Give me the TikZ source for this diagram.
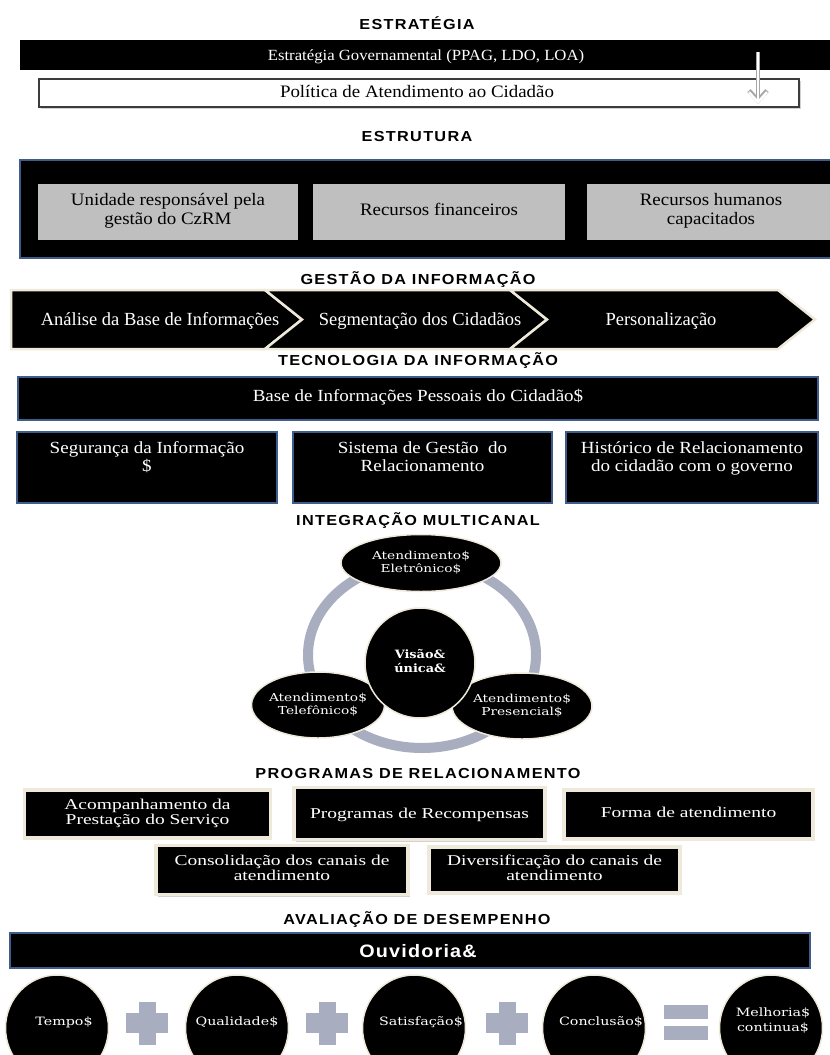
\documentclass[tikz,border=0pt]{standalone}
\usepackage{fontspec}
\usepackage{graphicx}
\setmainfont{Liberation Serif}
\newfontfamily\ttlfont[LetterSpace=8]{Liberation Sans}
\newfontfamily\ouvfont[LetterSpace=6]{Liberation Sans}
\newfontfamily\elfont{DejaVu Serif}
\usetikzlibrary{shapes.geometric,arrows.meta,shadows}
\definecolor{bblue}{RGB}{62,92,140}
\definecolor{cream}{RGB}{238,233,218}
\definecolor{gfill}{RGB}{191,191,191}
\definecolor{ringc}{RGB}{168,174,192}
\definecolor{darkedge}{RGB}{60,60,60}
\newcommand\tx[2]{\scalebox{#1}[1]{\begin{tabular}{@{}c@{}}#2\end{tabular}}}
\begin{document}
\begin{tikzpicture}[x=1pt,y=-1pt,
  ttl/.style={inner sep=0, font=\ttlfont\bfseries\fontsize{14.5}{16}\selectfont},
  wtxt/.style={inner sep=0, text=white},
  blkbar/.style={fill=black, inner sep=0},
  bluebox/.style={fill=black, draw=bblue, line width=2.2, inner sep=0},
  graybox/.style={fill=gfill, inner sep=0},
  chev/.style={fill=black, draw=cream, line width=2.5, line join=miter},
  ell/.style={ellipse, fill=black, draw=cream, line width=1.5, inner sep=0},
  progbox/.style={fill=black, draw=cream, line width=3.5, inner sep=0,
     drop shadow={opacity=0.35, shadow xshift=1.5pt, shadow yshift=-2pt}},
  signc/.style={fill=ringc}
]
\useasboundingbox (0,0) rectangle (830,1055);
\fill[white] (0,0) rectangle (830,1055);

% ---------- ESTRATEGIA
\node[ttl] (t1) at (417,25) {\tx{1.12}{ESTRATÉGIA}};
\node[blkbar, minimum width=810, minimum height=30] (gov) at (425,55) {};
\node[wtxt, font=\fontsize{15.5}{17}\selectfont] (govt) at (426,57) {\tx{1.08}{Estratégia Governamental (PPAG, LDO, LOA)}};
\node[fill=white, draw=darkedge, line width=1.2, minimum width=760, minimum height=28, inner sep=0,
   drop shadow={opacity=0.35, shadow xshift=1.5pt, shadow yshift=-2pt}] (pol) at (419,93) {};
\node[inner sep=0, font=\fontsize{17.5}{19}\selectfont] (polt) at (417,94) {\tx{1.08}{Política de Atendimento ao Cidadão}};
\coordinate (aS) at (758,52);
\coordinate (aE) at (758,104);
\draw[line width=4.5pt, black!35, -{Straight Barb[length=10pt,width=18pt]}] (aS) -- (aE);
\draw[line width=2.5pt, white, -{Straight Barb[length=10pt,width=18pt]}] (aS) -- (aE);

% ---------- ESTRUTURA
\node[ttl] (t2) at (417,138) {\tx{1.12}{ESTRUTURA}};
\node[bluebox, minimum width=830, minimum height=98] (est) at (435,209) {};
\node[graybox, minimum width=260, minimum height=56] (g1) at (168,211.5) {};
\node[graybox, minimum width=252, minimum height=56] (g2) at (439,211.5) {};
\node[graybox, minimum width=258, minimum height=56] (g3) at (716,211.5) {};
\begin{scope}[every node/.style={inner sep=0, font=\fontsize{17.5}{18.5}\selectfont}]
\node (g1t) at (g1) {\tx{1.08}{Unidade responsável pela\\gestão do CzRM}};
\node (g2t) at (g2) {\tx{1.08}{Recursos financeiros}};
\node (g3t) at (711,211.5) {\tx{1.08}{Recursos humanos\\capacitados}};
\end{scope}

% ---------- GESTAO DA INFORMACAO
\node[ttl] (t3) at (418,280) {\tx{1.12}{GESTÃO DA INFORMAÇÃO}};
\draw[chev] (11,290) -- (265,290) -- (302,319.5) -- (265,349) -- (11,349) -- cycle;
\draw[chev] (265,290) -- (510,290) -- (547,319.5) -- (510,349) -- (265,349) -- (302,319.5) -- cycle;
\draw[chev] (510,290) -- (778,290) -- (815,319.5) -- (778,349) -- (510,349) -- (547,319.5) -- cycle;
\begin{scope}[every node/.style={wtxt, font=\fontsize{18.5}{20}\selectfont}]
\node (c1) at (160,321) {\tx{1.0}{Análise da Base de Informações}};
\node (c2) at (420,321) {\tx{1.0}{Segmentação dos Cidadãos}};
\node (c3) at (661,321) {\tx{1.0}{Personalização}};
\end{scope}

% ---------- TECNOLOGIA DA INFORMACAO
\node[ttl] (t4) at (418,361) {\tx{1.12}{TECNOLOGIA DA INFORMAÇÃO}};
\node[bluebox, minimum width=800, minimum height=43] (bas) at (418,398.5) {};
\node[bluebox, minimum width=260, minimum height=71] (s1) at (147,467.5) {};
\node[bluebox, minimum width=259, minimum height=71] (s2) at (422.5,467.5) {};
\node[bluebox, minimum width=252, minimum height=71] (s3) at (692,467.5) {};
\begin{scope}[every node/.style={wtxt, font=\fontsize{17}{18.5}\selectfont}]
\node (bast) at (418,398) {\tx{1.12}{Base de Informações Pessoais do Cidadão\$}};
\node (s1t) at (147,459) {\tx{1.12}{Segurança da Informação\\\$}};
\node (s2t) at (422.5,459) {\tx{1.12}{Sistema de Gestão~ do\\Relacionamento}};
\node (s3t) at (692,459) {\tx{1.12}{Histórico de Relacionamento\\do cidadão com o governo}};
\end{scope}

% ---------- INTEGRACAO MULTICANAL
\node[ttl] (t5) at (418,521) {\tx{1.12}{INTEGRAÇÃO MULTICANAL}};
\node[ellipse, draw=ringc, line width=10, minimum width=228, minimum height=186, inner sep=0] (ring) at (422,655) {};
\node[ell, minimum width=160, minimum height=57] (e1) at (421,563) {};
\node[ell, minimum width=133, minimum height=66] (e2) at (318,705) {};
\node[ell, minimum width=140, minimum height=66] (e3) at (522,706) {};
\node[ell, minimum width=110, minimum height=110] (ec) at (420,663) {};
\begin{scope}[every node/.style={wtxt, font=\elfont\fontsize{11}{13}\selectfont}]
\node (e1t) at (e1) {\tx{1.25}{Atendimento\$\\Eletrônico\$}};
\node (e2t) at (e2) {\tx{1.25}{Atendimento\$\\Telefônico\$}};
\node (e3t) at (e3) {\tx{1.25}{Atendimento\$\\Presencial\$}};
\node[font=\elfont\bfseries\fontsize{11.5}{13.5}\selectfont] (ect) at (ec) {\tx{1.12}{Visão\&\\única\&}};
\end{scope}

% ---------- PROGRAMAS DE RELACIONAMENTO
\node[ttl] (t6) at (418,775) {\tx{1.12}{PROGRAMAS DE RELACIONAMENTO}};
\node[progbox, minimum width=246, minimum height=48] (p1) at (147.5,814) {};
\node[progbox, minimum width=251, minimum height=52] (p2) at (419.5,813.5) {};
\node[progbox, minimum width=249, minimum height=49] (p3) at (688.5,814.5) {};
\node[progbox, minimum width=252, minimum height=49] (p4) at (282,870) {};
\node[progbox, minimum width=251, minimum height=46] (p5) at (554.5,870) {};
\begin{scope}[every node/.style={wtxt, font=\fontsize{15}{14.5}\selectfont}]
\node (p1t) at (p1) {\tx{1.3}{Acompanhamento da\\Prestação do Serviço}};
\node (p2t) at (419.5,815) {\tx{1.3}{Programas de Recompensas}};
\node (p3t) at (p3) {\tx{1.3}{Forma de atendimento}};
\node (p4t) at (p4) {\tx{1.3}{Consolidação dos canais de\\atendimento}};
\node (p5t) at (p5) {\tx{1.3}{Diversificação do canais de\\atendimento}};
\end{scope}

% ---------- AVALIACAO DE DESEMPENHO
\node[ttl] (t7) at (417,920) {\tx{1.12}{AVALIAÇÃO DE DESEMPENHO}};
\node[bluebox, minimum width=800, minimum height=35] (ouv) at (410,950.5) {};
\node[wtxt, font=\ouvfont\bfseries\fontsize{18}{20}\selectfont] (ouvt) at (418,953) {\tx{1.1}{Ouvidoria\&}};

\node[ell, minimum width=103, minimum height=106] (b1) at (57,1028) {};
\node[ell, minimum width=103, minimum height=106] (b2) at (237,1028) {};
\node[ell, minimum width=103, minimum height=106] (b3) at (414,1028) {};
\node[ell, minimum width=103, minimum height=106] (b4) at (594,1028) {};
\node[ell, minimum width=103, minimum height=106] (b5) at (771,1028) {};
\begin{scope}[every node/.style={wtxt, font=\elfont\fontsize{11.5}{14.5}\selectfont}]
\node (b1t) at (64,1023) {\tx{1.24}{Tempo\$}};
\node (b2t) at (237,1023) {\tx{1.24}{Qualidade\$}};
\node (b3t) at (421,1023) {\tx{1.24}{Satisfação\$}};
\node (b4t) at (601,1023) {\tx{1.24}{Conclusão\$}};
\node (b5t) at (773,1021) {\tx{1.24}{Melhoria\$\\continua\$}};
\end{scope}
% plus signs
\foreach \cx in {147,327,507}{
  \fill[signc] (\cx-21,1013) rectangle (\cx+21,1033);
  \fill[signc] (\cx-8.5,1002) rectangle (\cx+8.5,1045);
}
% equals sign
\fill[signc] (664,1005) rectangle (708,1019);
\fill[signc] (664,1026) rectangle (708,1040);
\end{tikzpicture}
\end{document}
